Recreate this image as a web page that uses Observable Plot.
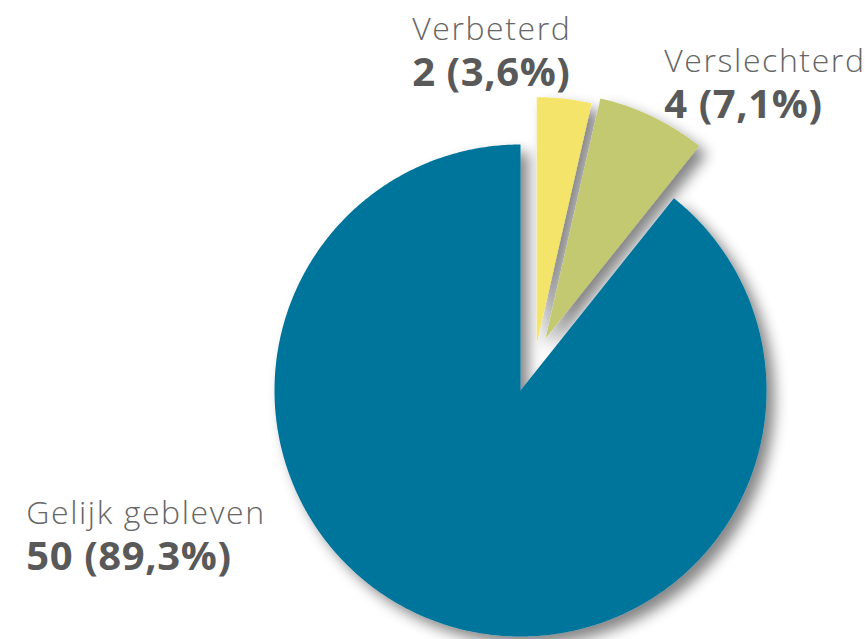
<!DOCTYPE html>
<html><head><meta charset="utf-8">
<script src="https://cdn.jsdelivr.net/npm/d3@7"></script>
<script src="https://cdn.jsdelivr.net/npm/@observablehq/plot@0.6"></script>
<style>
html,body{margin:0;padding:0;background:#fff;}
#chart svg{display:block;}
</style></head><body><div id="chart"></div>
<script>
// ---- data ----
const categories = ["Verbeterd", "Verslechterd", "Gelijk gebleven"];
const counts = [2, 4, 50];
const percentLabels = ["3,6%", "7,1%", "89,3%"];
const colors = ["#f4e46b", "#c3c96f", "#00749c"];

// ---- layout (styling) ----
const W = 865, H = 639, R = 246, CX = 520, CY = 390;
// explosion: distance in px, direction in degrees (null = slice bisector)
const explode = [{dist: 50, dir: 19}, {dist: 58, dir: null}, {dist: 0, dir: null}];
// label placement: polar angle (deg, clockwise from top) and radius factor of the value line baseline
const labelPolar = [{a: -19.6, r: 1.313}, {a: 27.8, r: 1.253}, {a: 250.0, r: 2.138}];

const arcs = d3.pie().sort(null).value(d => d)(counts);
const rad = Math.PI / 180;

const points = [];
arcs.forEach((p, i) => {
  const mid = (p.startAngle + p.endAngle) / 2;
  const dir = explode[i].dir == null ? mid : explode[i].dir * rad;
  const ox = explode[i].dist / R * Math.sin(dir);
  const oy = explode[i].dist / R * Math.cos(dir);
  const cat = categories[i];
  points.push({cat, x: ox, y: oy});
  const n = Math.max(8, Math.ceil((p.endAngle - p.startAngle) / (0.5 * rad)));
  for (let k = 0; k <= n; k++) {
    const a = p.startAngle + (p.endAngle - p.startAngle) * k / n;
    points.push({cat, x: ox + Math.sin(a), y: oy + Math.cos(a)});
  }
});

const labels = categories.map((c, i) => ({
  cat: c,
  value: `${counts[i]} (${percentLabels[i]})`,
  x: labelPolar[i].r * Math.sin(labelPolar[i].a * rad),
  y: labelPolar[i].r * Math.cos(labelPolar[i].a * rad)
}));

const svg = Plot.plot({
  width: W, height: H, margin: 0,
  style: {background: "#fff", overflow: "visible"},
  x: {domain: [-CX / R, (W - CX) / R], axis: null},
  y: {domain: [-(H - CY) / R, CY / R], axis: null},
  color: {domain: categories, range: colors},
  marks: [
    Plot.line(points, {x: "x", y: "y", z: "cat", fill: "cat", stroke: "none", curve: "linear-closed"}),
    Plot.text(labels, {x: "x", y: "y", text: "cat", textAnchor: "start", lineAnchor: "bottom",
      dy: -46, fontSize: 32, fontWeight: 300, fontFamily: "'Open Sans', sans-serif", fill: "#666666"}),
    Plot.text(labels, {x: "x", y: "y", text: "value", textAnchor: "start", lineAnchor: "bottom",
      fontSize: 40, fontWeight: 700, fontFamily: "'Open Sans', sans-serif", fill: "#595959"})
  ]
});

// drop shadow on the slices
const ns = "http://www.w3.org/2000/svg";
const defs = document.createElementNS(ns, "defs");
defs.innerHTML = `<filter id="sliceShadow" x="-20%" y="-20%" width="150%" height="150%">
  <feDropShadow dx="8" dy="8" stdDeviation="7" flood-color="#000" flood-opacity="0.48"/></filter>`;
svg.insertBefore(defs, svg.firstChild);
const g = svg.querySelector('g[aria-label="line"]');
if (g) g.setAttribute("filter", "url(#sliceShadow)");
const texts = svg.querySelectorAll('g[aria-label="text"]');
if (texts[0]) texts[0].setAttribute("letter-spacing", "1.6");
if (texts[1]) texts[1].setAttribute("letter-spacing", "0.6");

document.getElementById("chart").appendChild(svg);
</script>
</body></html>
